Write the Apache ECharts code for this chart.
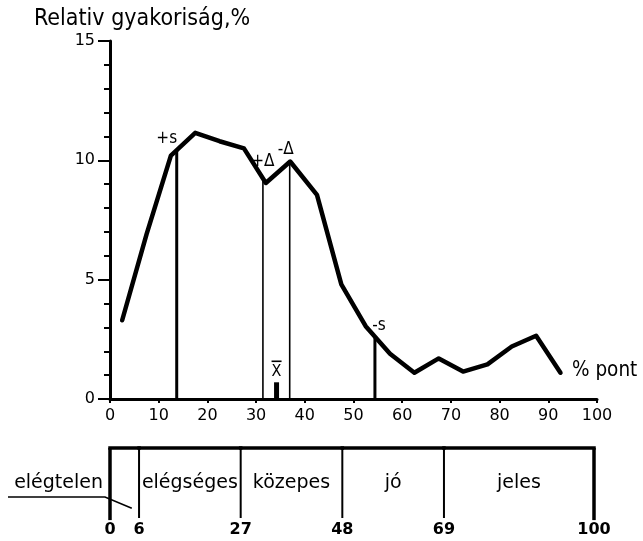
<!DOCTYPE html>
<html>
<head>
<meta charset="utf-8">
<script src="https://cdn.jsdelivr.net/npm/echarts@6/dist/echarts.min.js"></script>
<style>
  html, body { margin: 0; padding: 0; background: #fff; }
  #chart { width: 643px; height: 541px; }
</style>
</head>
<body>
<div id="chart"></div>
<script>
// Relative frequency polygon of the test scores (class midpoints in % points)
const scorePoints = [2.5, 7.5, 12.5, 17.5, 22.5, 27.5, 32, 37, 42.5, 47.5, 52.5, 57.5, 62.5, 67.5, 72.5, 77.5, 82.5, 87.5, 92.5];
const relFreq     = [3.3, 6.9, 10.2, 11.15, 10.8, 10.5, 9.05, 9.95, 8.55, 4.8, 3.05, 1.9, 1.1, 1.7, 1.15, 1.45, 2.2, 2.65, 1.1];

// Spread markers around the mean
const markerNames = ['+s', '+Δ', '-Δ', '-s'];
const markerX     = [13.7, 31.4, 36.9, 54.4];

// Mean
const meanX = 34.2;
const meanBarHeight = 0.7;

// Axis ticks
const xTicks = [0, 10, 20, 30, 40, 50, 60, 70, 80, 90, 100];
const yTicks = [0, 5, 10, 15];

// Grade bands on the percentage scale
const gradeBounds = [0, 6, 27, 48, 69, 100];
const gradeNames  = ['elégtelen', 'elégséges', 'közepes', 'jó', 'jeles'];

const FONT = '"DejaVu Sans", sans-serif';
const FONT_NARROW = '"DejaVu Sans Condensed", "DejaVu Sans", sans-serif';

// value of the polygon at an arbitrary score
function curveAt(x) {
  for (let i = 0; i < scorePoints.length - 1; i++) {
    const a = scorePoints[i], b = scorePoints[i + 1];
    if (x >= a && x <= b) {
      const t = (x - a) / (b - a);
      return relFreq[i] + t * (relFreq[i + 1] - relFreq[i]);
    }
  }
  return 0;
}

// label offsets (px) for the marker captions, relative to the top of each line
const markerLabelOffset = {
  '+s': [-10, -12],
  '+Δ': [0, -17],
  '-Δ': [-4, -12],
  '-s': [4, -11]
};

const chart = echarts.init(document.getElementById('chart'), null, { renderer: 'canvas' });

const option = {
  backgroundColor: '#fff',
  animation: false,
  grid: [
    { left: 110, top: 41, width: 487, height: 358 },
    { left: 110, top: 448, width: 484, height: 70 }
  ],
  xAxis: [
    {
      gridIndex: 0, type: 'value',
      min: xTicks[0], max: xTicks[xTicks.length - 1],
      interval: xTicks[1] - xTicks[0],
      axisLine: { show: true, lineStyle: { color: '#000', width: 3 } },
      axisTick: { show: true, length: 4, lineStyle: { color: '#000', width: 2 } },
      axisLabel: { color: '#000', fontSize: 16, fontFamily: FONT, margin: 9 },
      splitLine: { show: false }
    },
    { gridIndex: 1, type: 'value', min: 0, max: 100, show: false }
  ],
  yAxis: [
    {
      gridIndex: 0, type: 'value',
      min: yTicks[0], max: yTicks[yTicks.length - 1],
      interval: yTicks[1] - yTicks[0],
      axisLine: { show: true, lineStyle: { color: '#000', width: 3 } },
      axisTick: { show: true, length: 12, lineStyle: { color: '#000', width: 2 } },
      minorTick: { show: true, splitNumber: 5, length: 6, lineStyle: { color: '#000', width: 2 } },
      axisLabel: { color: '#000', fontSize: 16, fontFamily: FONT, margin: 15 },
      splitLine: { show: false },
      minorSplitLine: { show: false }
    },
    { gridIndex: 1, type: 'value', min: 0, max: 1, show: false }
  ],
  graphic: [
    {
      type: 'text', left: 34, top: 8,
      style: { text: 'Relativ gyakoriság,%', fontSize: 23, fontFamily: FONT_NARROW, fill: '#000' }
    },
    {
      type: 'text', left: 572, top: 360,
      style: { text: '% pont', fontSize: 20.5, fontFamily: FONT_NARROW, fill: '#000' }
    }
  ],
  series: [
    {
      name: 'relatív gyakoriság',
      type: 'line',
      xAxisIndex: 0, yAxisIndex: 0,
      data: scorePoints.map((x, i) => [x, relFreq[i]]),
      showSymbol: false,
      lineStyle: { color: '#000', width: 4.5, cap: 'round', join: 'round' },
      z: 5
    },
    {
      name: 'markers',
      type: 'custom',
      xAxisIndex: 0, yAxisIndex: 0,
      data: markerX.map((x, i) => [x, curveAt(x), i]),
      renderItem(params, api) {
        const x = api.value(0), top = api.value(1), i = api.value(2);
        const name = markerNames[i];
        const p0 = api.coord([x, 0]);
        const p1 = api.coord([x, top]);
        const isS = name.indexOf('s') >= 0;
        const off = markerLabelOffset[name];
        return {
          type: 'group',
          children: [
            {
              type: 'line',
              shape: { x1: p0[0], y1: p0[1], x2: p1[0], y2: p1[1] },
              style: { stroke: '#000', lineWidth: isS ? 3 : 1.6 }
            },
            {
              type: 'text',
              style: {
                text: name, x: p1[0] + off[0], y: p1[1] + off[1],
                align: 'center', verticalAlign: 'middle',
                fontSize: 17, fontFamily: FONT_NARROW, fill: '#000'
              }
            }
          ]
        };
      },
      z: 4
    },
    {
      name: 'mean',
      type: 'custom',
      xAxisIndex: 0, yAxisIndex: 0,
      data: [[meanX, meanBarHeight]],
      renderItem(params, api) {
        const p0 = api.coord([api.value(0), 0]);
        const p1 = api.coord([api.value(0), api.value(1)]);
        return {
          type: 'group',
          children: [
            {
              type: 'rect',
              shape: { x: p0[0] - 2.5, y: p1[1], width: 5, height: p0[1] - p1[1] },
              style: { fill: '#000' }
            },
            {
              type: 'text',
              style: {
                text: 'X', x: p1[0], y: p1[1] - 10,
                align: 'center', verticalAlign: 'middle',
                fontSize: 16, fontFamily: FONT_NARROW, fill: '#000'
              }
            },
            {
              type: 'line',
              shape: { x1: p1[0] - 5, y1: p1[1] - 21, x2: p1[0] + 5, y2: p1[1] - 21 },
              style: { stroke: '#000', lineWidth: 1.6 }
            }
          ]
        };
      }
    },
    {
      name: 'grades',
      type: 'custom',
      xAxisIndex: 1, yAxisIndex: 1,
      data: gradeNames.map((g, i) => [gradeBounds[i], gradeBounds[i + 1], i]),
      renderItem(params, api) {
        const a = api.value(0), b = api.value(1), i = api.value(2);
        const last = gradeNames.length - 1;
        const tl = api.coord([a, 1]);
        const tr = api.coord([b, 1]);
        const children = [];
        // top rule of the band
        children.push({
          type: 'line',
          shape: { x1: tl[0], y1: tl[1], x2: tr[0], y2: tr[1] },
          style: { stroke: '#000', lineWidth: 3.5, lineCap: 'square' }
        });
        // left boundary of the first band
        if (i === 0) {
          const bl = api.coord([a, -0.03]);
          children.push({
            type: 'line',
            shape: { x1: tl[0], y1: tl[1], x2: bl[0], y2: bl[1] },
            style: { stroke: '#000', lineWidth: 3.5 }
          });
        }
        // right boundary
        const br = api.coord([b, i === last ? -0.03 : 0]);
        children.push({
          type: 'line',
          shape: { x1: tr[0], y1: tr[1], x2: br[0], y2: br[1] },
          style: { stroke: '#000', lineWidth: i === last ? 3.5 : 2 }
        });
        // bound numbers
        const nums = [[a, String(a)]];
        if (i === last) nums.push([b, String(b)]);
        nums.forEach(([v, t]) => {
          const p = api.coord([v, 0]);
          children.push({
            type: 'text',
            style: {
              text: t, x: p[0], y: p[1] + 12,
              align: 'center', verticalAlign: 'middle',
              fontSize: 16, fontWeight: 'bold', fontFamily: FONT, fill: '#000'
            }
          });
        });
        // band name
        if (i === 0) {
          const p = api.coord([a, 0.5]);
          const end = api.coord([b * 0.75, 0.14]);
          children.push({
            type: 'text',
            style: {
              text: gradeNames[i], x: p[0] - 7, y: p[1],
              align: 'right', verticalAlign: 'middle',
              fontSize: 19, fontFamily: FONT, fill: '#000'
            }
          });
          children.push({
            type: 'polyline',
            shape: { points: [[8, p[1] + 14], [p[0] - 5, p[1] + 14], [end[0], end[1]]] },
            style: { stroke: '#000', lineWidth: 1.6, fill: null }
          });
        } else {
          const p = api.coord([(a + b) / 2, 0.5]);
          children.push({
            type: 'text',
            style: {
              text: gradeNames[i], x: p[0], y: p[1],
              align: 'center', verticalAlign: 'middle',
              fontSize: 19, fontFamily: FONT, fill: '#000'
            }
          });
        }
        return { type: 'group', children };
      }
    }
  ]
};

chart.setOption(option);
</script>
</body>
</html>
